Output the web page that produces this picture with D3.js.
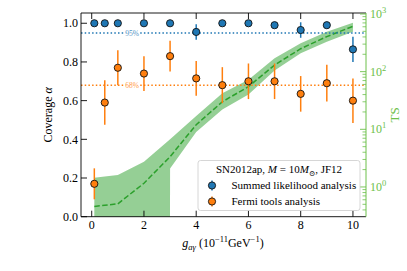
<!DOCTYPE html>
<html><head><meta charset="utf-8">
<script src="https://cdn.jsdelivr.net/npm/d3@7"></script>
<style>
body{margin:0;background:#fff}
svg{display:block}
text{font-family:"Liberation Serif","DejaVu Serif",serif}
</style></head>
<body><svg id="c" width="407" height="271"></svg>
<script>
// ---- data ----
const gValues = [0.1, 0.5, 1, 2, 3, 4, 5, 6, 7, 8, 9, 10];
const summedAlpha = [1, 1, 1, 1, 1, 0.955, 1, 1, 0.99, 0.965, 0.99, 0.865];
const summedErr = [0, 0, 0, 0, 0, 0.04, 0, 0, 0.01, 0.04, 0.01, 0.065];
const fermiAlpha = [0.17, 0.59, 0.77, 0.74, 0.83, 0.715, 0.68, 0.70, 0.70, 0.635, 0.69, 0.60];
const fermiErr = [0.08, 0.115, 0.09, 0.09, 0.08, 0.09, 0.093, 0.092, 0.092, 0.092, 0.095, 0.115];
const tsMedian = [0.46, 0.48, 0.51, 1.16, 3.35, 12, 30, 55, 130, 250, 405, 610];
const tsLow = [0, 0, 0, 0, 2.1, 9, 22, 40, 105, 208, 330, 490];
const tsHigh = [1.45, 1.52, 1.61, 2.74, 6.7, 17, 42, 72, 170, 310, 490, 705];
const xTicks = [0, 2, 4, 6, 8, 10];
const yTicks = [0, 0.2, 0.4, 0.6, 0.8, 1.0];
const tsTicks = [1, 10, 100, 1000];
const refLevels = [0.95, 0.68];
const refLabels = ["95%", "68%"];

// ---- layout ----
const L = 81, R = 366, T = 13, B = 216.7;
const svg = d3.select("#c");
const x = d3.scaleLinear().domain([-0.41, 10.5]).range([L, R]);
const y = d3.scaleLinear().domain([0, 1.053]).range([B, T]);
const y2 = d3.scaleLog().domain([0.305, 1040]).range([B, T]);
const blue = "#1f77b4", orange = "#ff7f0e", green = "#2ca02c", tsCol = "#6cc04a";

svg.append("defs").append("clipPath").attr("id", "clip")
  .append("rect").attr("x", L).attr("y", T).attr("width", R - L).attr("height", B - T);
const plot = svg.append("g").attr("clip-path", "url(#clip)");

// TS band
const floorTS = v => v > 0 ? v : 1e-300;
const band = d3.area()
  .x((d, i) => x(gValues[i]))
  .y0((d, i) => y2(floorTS(tsLow[i])))
  .y1((d, i) => y2(tsHigh[i]));
plot.append("path").attr("d", band(gValues)).attr("fill", green).attr("fill-opacity", 0.5).attr("stroke", "none");
const med = d3.line().x((d, i) => x(gValues[i])).y((d, i) => y2(tsMedian[i]));
plot.append("path").attr("d", med(gValues)).attr("fill", "none").attr("stroke", green)
  .attr("stroke-width", 1.5).attr("stroke-dasharray", "5.5,2.4");

// reference lines
const refCols = [blue, orange];
refLevels.forEach((lv, k) => {
  plot.append("line").attr("x1", L).attr("x2", R).attr("y1", y(lv)).attr("y2", y(lv))
    .attr("stroke", refCols[k]).attr("stroke-width", 1.5).attr("stroke-dasharray", "1.5,2.2");
  const tx = svg.append("text").attr("x", x(1.55)).attr("y", y(lv)).attr("dy", "0.35em")
    .attr("text-anchor", "middle").attr("font-size", 7.5).attr("fill", refCols[k]).attr("fill-opacity", 0.8)
    .text(refLabels[k]);
  const bb = tx.node().getBBox();
  svg.insert("rect", () => tx.node()).attr("x", bb.x - 1).attr("y", y(lv) - 2).attr("width", bb.width + 2)
    .attr("height", 4).attr("fill", "#fff").attr("fill-opacity", 0.8);
});

// error bars + points
function series(vals, errs, col) {
  const g = svg.append("g");
  gValues.forEach((gv, i) => {
    if (errs[i] > 0) g.append("line").attr("x1", x(gv)).attr("x2", x(gv))
      .attr("y1", y(vals[i] - errs[i])).attr("y2", y(vals[i] + errs[i]))
      .attr("stroke", col).attr("stroke-width", 1.5);
  });
  gValues.forEach((gv, i) => {
    g.append("circle").attr("cx", x(gv)).attr("cy", y(vals[i])).attr("r", 3.6)
      .attr("fill", col).attr("stroke", "#111").attr("stroke-width", 0.9);
  });
}
series(fermiAlpha, fermiErr, orange);
series(summedAlpha, summedErr, blue);

// axes frame
const ax = svg.append("g");
ax.append("line").attr("x1", L).attr("x2", R).attr("y1", T).attr("y2", T).attr("stroke", "#000").attr("stroke-width", 0.9);
ax.append("line").attr("x1", L).attr("x2", R).attr("y1", B).attr("y2", B).attr("stroke", "#000").attr("stroke-width", 0.9);
ax.append("line").attr("x1", L).attr("x2", L).attr("y1", T).attr("y2", B).attr("stroke", "#000").attr("stroke-width", 0.9);
ax.append("line").attr("x1", R).attr("x2", R).attr("y1", T).attr("y2", B).attr("stroke", tsCol).attr("stroke-width", 1);

xTicks.forEach(t => {
  ax.append("line").attr("x1", x(t)).attr("x2", x(t)).attr("y1", B).attr("y2", B - 6).attr("stroke", "#000").attr("stroke-width", 0.9);
  ax.append("line").attr("x1", x(t)).attr("x2", x(t)).attr("y1", T).attr("y2", T + 6).attr("stroke", "#000").attr("stroke-width", 0.9);
  ax.append("text").attr("x", x(t)).attr("y", B + 12).attr("text-anchor", "middle").attr("font-size", 12).text(t);
});
yTicks.forEach(t => {
  ax.append("line").attr("x1", L).attr("x2", L + 6).attr("y1", y(t)).attr("y2", y(t)).attr("stroke", "#000").attr("stroke-width", 0.9);
  ax.append("text").attr("x", L - 3).attr("y", y(t)).attr("dy", "0.35em").attr("text-anchor", "end").attr("font-size", 12).text(t.toFixed(1));
});
// right log axis
const minorTS = [];
[0.1, 1, 10, 100].forEach(dec => { for (let m = 2; m <= 9; m++) { const v = dec * m; if (v >= 0.305 && v <= 1040) minorTS.push(v); } });
minorTS.forEach(t => {
  ax.append("line").attr("x1", R).attr("x2", R - 3.5).attr("y1", y2(t)).attr("y2", y2(t)).attr("stroke", tsCol).attr("stroke-width", 0.8);
});
tsTicks.forEach((t, k) => {
  ax.append("line").attr("x1", R).attr("x2", R - 6).attr("y1", y2(t)).attr("y2", y2(t)).attr("stroke", tsCol).attr("stroke-width", 0.9);
  const tx = ax.append("text").attr("x", R + 4).attr("y", y2(t) + 4).attr("font-size", 12).attr("fill", tsCol);
  tx.append("tspan").text("10");
  tx.append("tspan").attr("dy", -5).attr("font-size", 8.5).text(Math.round(Math.log10(t)));
});

// axis labels
const yl = svg.append("text").attr("transform", `translate(52,${(T + B) / 2}) rotate(-90)`).attr("text-anchor", "middle").attr("font-size", 12);
yl.append("tspan").text("Coverage ");
yl.append("tspan").attr("font-style", "italic").text("α");
const tl = svg.append("text").attr("transform", `translate(399,${(T + B) / 2}) rotate(-90)`).attr("text-anchor", "middle").attr("font-size", 13).attr("fill", tsCol).text("TS");
const xl = svg.append("text").attr("x", 223).attr("y", 247).attr("text-anchor", "middle").attr("font-size", 12);
xl.append("tspan").attr("font-style", "italic").text("g");
xl.append("tspan").attr("font-style", "italic").attr("font-size", 8.5).attr("dy", 2.5).text("aγ");
xl.append("tspan").attr("dy", -2.5).text(" (10");
xl.append("tspan").attr("font-size", 8.5).attr("dy", -5).text("−11");
xl.append("tspan").attr("dy", 5).text("GeV");
xl.append("tspan").attr("font-size", 8.5).attr("dy", -5).text("−1");
xl.append("tspan").attr("dy", 5).text(")");

// legend
const lg = svg.append("g");
lg.append("rect").attr("x", 198).attr("y", 160.5).attr("width", 162).attr("height", 50).attr("rx", 2.5)
  .attr("fill", "#fff").attr("fill-opacity", 0.8).attr("stroke", "#ccc").attr("stroke-width", 0.8);
const tt = lg.append("text").attr("x", 279).attr("y", 173).attr("text-anchor", "middle").attr("font-size", 11);
tt.append("tspan").text("SN2012ap, ");
tt.append("tspan").attr("font-style", "italic").text("M");
tt.append("tspan").text(" = 10");
tt.append("tspan").attr("font-style", "italic").text("M");
tt.append("tspan").attr("font-size", 7.5).attr("dy", 2.5).text("⊙");
tt.append("tspan").attr("dy", -2.5).text(", JF12");
const legItems = [["Summed likelihood analysis", blue], ["Fermi tools analysis", orange]];
legItems.forEach(([lab, col], k) => {
  const cy = 185.5 + k * 16;
  lg.append("line").attr("x1", 212).attr("x2", 212).attr("y1", cy - 5).attr("y2", cy + 5).attr("stroke", col).attr("stroke-width", 1.5);
  lg.append("circle").attr("cx", 212).attr("cy", cy).attr("r", 3.6).attr("fill", col).attr("stroke", "#111").attr("stroke-width", 0.9);
  lg.append("text").attr("x", 231.5).attr("y", cy).attr("dy", "0.35em").attr("font-size", 11).text(lab);
});
</script></body></html>
